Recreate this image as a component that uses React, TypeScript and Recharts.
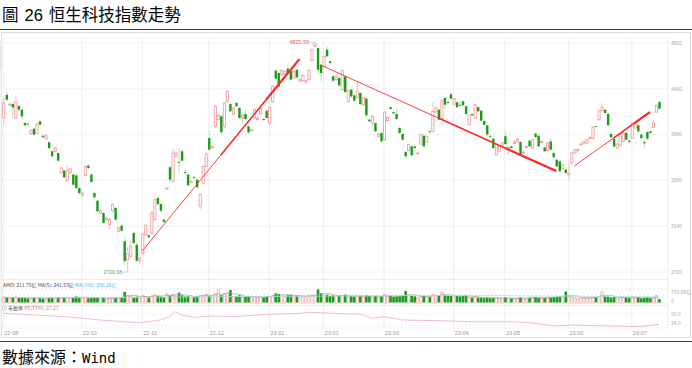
import React from 'react';
import {
  ComposedChart,
  Bar,
  Line,
  XAxis,
  YAxis,
  CartesianGrid,
  ReferenceLine,
  ReferenceDot,
} from 'recharts';

// daily candles, Aug 2022 - Jul 2023
const open = [
  4132, 4346, 4250, 4260, 4132, 4242, 4208, 4086, 4080, 3988,
  4034, 3995, 4102, 3970, 3940, 3910, 3827, 3827, 3811, 3628,
  3650, 3557, 3634, 3614, 3606, 3490, 3426, 3606, 3695, 3614,
  3444, 3374, 3261, 3261, 3200, 3154, 3282, 3307, 3094, 3145,
  3002, 2833, 2864, 3078, 2970, 2824, 2894, 3062, 3058, 3078,
  3200, 3398, 3343, 3200, 3481, 3680, 3552, 3781, 3730, 3827,
  3637, 3614, 3543, 3588, 3567, 3323, 3536, 3689, 3948, 3857,
  4056, 4117, 4148, 4056, 4285, 4260, 4169, 4270, 4224, 4132,
  4169, 4056, 4020, 4132, 4117, 4169, 4123, 4199, 4086, 4280,
  4566, 4545, 4529, 4536, 4584, 4566, 4499, 4575, 4469, 4474,
  4462, 4484, 4658, 4790, 4774, 4621, 4606, 4759, 4652, 4514,
  4484, 4499, 4392, 4514, 4285, 4392, 4340, 4322, 4362, 4254,
  4310, 4117, 4086, 4086, 3965, 3995, 3933, 4108, 4231, 4187,
  4169, 4041, 3986, 3820, 3833, 3872, 3872, 3808, 3894, 3970,
  3912, 4010, 4010, 4187, 4208, 4125, 4316, 4280, 4350, 4260,
  4276, 4254, 4285, 4240, 4071, 4169, 4132, 4231, 4199, 4105,
  4065, 3968, 3942, 3796, 3827, 3882, 3965, 3848, 3872, 3900,
  3912, 3912, 3811, 3863, 3924, 3857, 3989, 3970, 3909, 3863,
  3833, 3918, 3811, 3750, 3735, 3668, 3659, 3613, 3720, 3811,
  3833, 3890, 3903, 3903, 3942, 3942, 4058, 4117, 4199, 4208,
  4169, 3986, 3942, 3857, 3882, 3919, 3995, 3924, 3948, 4041,
  4065, 3980, 3912, 4004, 4010, 4047, 4187, 4280,
];
const close = [
  4270, 4300, 4258, 4230, 4280, 4208, 4148, 4065, 4074, 4016,
  3980, 4077, 4071, 3955, 3970, 3857, 3781, 3857, 3741, 3674,
  3588, 3653, 3665, 3521, 3490, 3444, 3444, 3689, 3674, 3546,
  3405, 3277, 3282, 3170, 3215, 3200, 3338, 3200, 3124, 3099,
  2818, 2886, 2955, 2986, 2824, 2848, 3069, 3149, 3039, 3261,
  3383, 3343, 3282, 3179, 3490, 3567, 3811, 3811, 3726, 3741,
  3628, 3516, 3552, 3581, 3497, 3432, 3689, 3802, 3842, 3872,
  4240, 4157, 4001, 4270, 4377, 4194, 4224, 4240, 4132, 4157,
  4123, 4001, 4025, 4208, 4132, 4218, 4114, 4132, 4231, 4423,
  4493, 4423, 4566, 4560, 4545, 4484, 4560, 4505, 4484, 4523,
  4474, 4569, 4759, 4808, 4575, 4545, 4698, 4698, 4636, 4474,
  4514, 4432, 4566, 4371, 4383, 4331, 4291, 4377, 4260, 4316,
  4157, 4102, 4148, 4010, 3986, 3919, 4187, 4139, 4215, 4175,
  4123, 3995, 3933, 3781, 3888, 3790, 3857, 3811, 3980, 3872,
  3965, 4001, 4194, 4224, 4117, 4290, 4254, 4270, 4310, 4307,
  4231, 4245, 4249, 4169, 4157, 4157, 4254, 4194, 4108, 4070,
  3980, 3962, 3857, 3888, 3872, 3903, 3894, 3863, 3857, 3912,
  3942, 3796, 3820, 3872, 3872, 3933, 3958, 3872, 3918, 3827,
  3903, 3842, 3772, 3689, 3644, 3704, 3628, 3628, 3811, 3842,
  3842, 3894, 3912, 3933, 3955, 4047, 4054, 4199, 4231, 4178,
  4065, 3955, 3872, 3894, 3980, 3995, 3933, 3912, 4086, 4077,
  4010, 3948, 3900, 3942, 3995, 4086, 4249, 4218,
];
const high = [
  4316, 4370, 4275, 4275, 4330, 4250, 4215, 4095, 4090, 4040,
  4045, 4090, 4110, 3978, 3978, 3920, 3835, 3870, 3815, 3685,
  3660, 3700, 3680, 3625, 3615, 3500, 3450, 3700, 3710, 3620,
  3455, 3380, 3300, 3270, 3230, 3215, 3350, 3320, 3135, 3155,
  3040, 2950, 3010, 3090, 2990, 2860, 3080, 3160, 3065, 3280,
  3430, 3410, 3350, 3210, 3495, 3690, 3850, 3830, 3850, 3840,
  3660, 3625, 3560, 3600, 3575, 3440, 3700, 3820, 4020, 3890,
  4250, 4170, 4160, 4280, 4390, 4275, 4235, 4280, 4235, 4170,
  4200, 4065, 4035, 4220, 4150, 4230, 4130, 4210, 4240, 4430,
  4580, 4555, 4580, 4575, 4620, 4575, 4570, 4585, 4495, 4530,
  4480, 4575, 4770, 4825.59, 4790, 4630, 4710, 4790, 4660, 4525,
  4525, 4510, 4580, 4525, 4395, 4400, 4350, 4460, 4370, 4325,
  4320, 4125, 4160, 4095, 3995, 4005, 4195, 4150, 4240, 4200,
  4220, 4050, 3995, 3830, 3900, 3880, 3880, 3818, 3990, 3980,
  3975, 4020, 4280, 4240, 4220, 4300, 4325, 4290, 4360, 4315,
  4285, 4290, 4295, 4250, 4165, 4175, 4265, 4240, 4205, 4112,
  4075, 3975, 3950, 3900, 3880, 3915, 4010, 3875, 3880, 3930,
  3950, 3920, 3828, 3880, 3935, 3945, 4000, 3978, 3928, 3870,
  3912, 3950, 3820, 3760, 3745, 3712, 3665, 3700, 3820, 3850,
  3860, 3910, 3925, 3942, 3965, 4055, 4062, 4210, 4270, 4215,
  4178, 4010, 3950, 3900, 3988, 4005, 4005, 3930, 4095, 4085,
  4075, 3988, 3920, 4012, 4020, 4120, 4258, 4290,
];
const low = [
  4077, 4280, 4240, 4132, 4120, 4190, 4120, 4055, 4060, 3975,
  3970, 3985, 4065, 3950, 3935, 3850, 3770, 3820, 3735, 3620,
  3580, 3550, 3620, 3510, 3470, 3430, 3400, 3600, 3660, 3540,
  3395, 3265, 3250, 3160, 3190, 3110, 3270, 3190, 3080, 3090,
  2785, 2720.38, 2850, 2975, 2810, 2790, 2880, 3050, 3030, 3060,
  3190, 3330, 3270, 3170, 3475, 3555, 3540, 3770, 3620, 3730,
  3610, 3500, 3535, 3570, 3480, 3290, 3520, 3680, 3835, 3850,
  4040, 4100, 3990, 4040, 4270, 4185, 4160, 4230, 4125, 4080,
  4115, 3985, 4010, 4120, 4110, 4160, 4105, 4125, 4060, 4270,
  4485, 4410, 4520, 4525, 4535, 4470, 4490, 4490, 4460, 4465,
  4440, 4475, 4650, 4780, 4530, 4470, 4595, 4690, 4625, 4460,
  4475, 4420, 4380, 4360, 4270, 4320, 4280, 4310, 4250, 4245,
  4150, 4095, 4060, 4000, 3955, 3905, 3925, 4100, 4205, 4165,
  4115, 3985, 3925, 3760, 3825, 3780, 3845, 3800, 3885, 3865,
  3905, 3995, 4000, 4175, 4105, 4115, 4210, 4260, 4300, 4250,
  4222, 4235, 4240, 4160, 4060, 4150, 4125, 4185, 4100, 4060,
  3970, 3950, 3845, 3785, 3820, 3870, 3885, 3800, 3850, 3890,
  3905, 3790, 3805, 3855, 3865, 3850, 3950, 3865, 3900, 3820,
  3825, 3835, 3765, 3680, 3635, 3660, 3620, 3567, 3710, 3805,
  3825, 3880, 3895, 3895, 3935, 3935, 4048, 4105, 4190, 4170,
  4055, 3948, 3862, 3850, 3875, 3910, 3925, 3900, 3940, 4030,
  4000, 3940, 3860, 3935, 3988, 4040, 4180, 4210,
];

// turnover, 亿
const amount = [
  320, 300, 260, 290, 340, 280, 300, 260, 250, 270,
  290, 310, 260, 240, 250, 280, 300, 250, 310, 280,
  300, 330, 260, 320, 350, 300, 280, 330, 260, 280,
  300, 320, 240, 290, 220, 260, 300, 280, 250, 320,
  600, 420, 380, 300, 350, 280, 420, 380, 300, 400,
  450, 380, 350, 320, 520, 400, 480, 380, 560, 420,
  350, 380, 300, 320, 360, 420, 450, 480, 380, 320,
  520, 780, 420, 480, 520, 700, 380, 360, 420, 320,
  350, 380, 300, 360, 320, 340, 300, 350, 380, 420,
  520, 480, 400, 380, 420, 450, 380, 400, 350, 360,
  380, 400, 450, 420, 750, 520, 420, 450, 380, 420,
  400, 380, 420, 450, 380, 360, 350, 380, 400, 360,
  420, 380, 350, 380, 340, 360, 480, 400, 380, 350,
  360, 380, 400, 650, 420, 380, 360, 300, 400, 380,
  360, 320, 480, 420, 400, 600, 420, 380, 400, 360,
  380, 360, 400, 420, 320, 300, 340, 300, 280, 260,
  300, 260, 280, 300, 260, 250, 300, 240, 260, 250,
  260, 300, 240, 250, 280, 300, 320, 280, 260, 270,
  280, 300, 320, 340, 360, 300, 620, 380, 340, 300,
  280, 300, 260, 280, 300, 340, 300, 380, 620, 360,
  340, 300, 320, 280, 300, 320, 280, 260, 300, 280,
  300, 260, 280, 300, 260, 280, 420, 211.75,
];

// PE(TTM) read at a few days
const peIdx = [0, 10, 21, 32, 39, 45, 52, 55, 57, 59, 63, 69, 76, 87, 98, 102, 109, 115, 118, 122, 126, 132, 144, 155, 167, 174, 183, 188, 200, 211, 217];
const peVal = [61.2, 55.9, 50.7, 40.5, 36, 32.2, 40.5, 50.7, 66.1, 55.9, 48.8, 52.8, 50.7, 58, 61.2, 64.2, 61.2, 59, 59, 45.8, 50.7, 40.5, 38.4, 35.3, 35.3, 32.2, 22, 25.1, 22, 19.9, 27.27];

const monthTicks = [0, 26, 46, 68, 88, 106, 126, 149, 166, 187, 208];
const monthLabels = ['22-08', '22-10', '22-11', '22-12', '23-01', '23-02', '23-03', '23-04', '23-05', '23-06', '23-07'];
const priceTicks = [2720, 3140, 3560, 3980, 4400, 4820];

// hand drawn trend lines: [index, price] start and end
const trends = [
  { x1: 46, y1: 2913, x2: 98, y2: 4673 },
  { x1: 105, y1: 4618, x2: 183, y2: 3646 },
  { x1: 189, y1: 3692, x2: 214, y2: 4187 },
];

const rolling = (arr: number[], n: number) =>
  arr.map((_, i) => {
    const s = arr.slice(Math.max(0, i - n + 1), i + 1);
    return s.reduce((a, b) => a + b, 0) / s.length;
  });

const ma5 = rolling(amount, 5);
const ma100 = rolling(amount, 100);

const data = open.map((o, i) => ({
  i,
  o,
  c: close[i],
  h: high[i],
  l: low[i],
  hl: [low[i], high[i]],
  amt: amount[i],
  ma5: ma5[i],
  ma100: ma100[i],
  pe: peIdx.includes(i) ? peVal[peIdx.indexOf(i)] : null,
  up: close[i] >= open[i],
}));

const hiIdx = high.indexOf(Math.max(...high));
const loIdx = low.indexOf(Math.min(...low));

const FONT = '"Liberation Sans", Arial, sans-serif';
const CJK = '"Noto Sans CJK TC", "Noto Sans CJK SC", sans-serif';

const Candle = (p: any) => {
  const { x, y, width, height, payload } = p;
  if (x == null || !payload) return null;
  const top = Math.min(y, y + height);
  const span = Math.abs(height);
  const k = payload.h > payload.l ? span / (payload.h - payload.l) : 0;
  const cx = x + width / 2;
  const yO = top + (payload.h - payload.o) * k;
  const yC = top + (payload.h - payload.c) * k;
  const bTop = Math.min(yO, yC);
  const bh = Math.max(Math.abs(yO - yC), 0.8);
  if (payload.up) {
    return (
      <g>
        <line x1={cx} x2={cx} y1={top} y2={top + span} stroke="#f5b2b2" strokeWidth={0.8} />
        <rect x={cx - 1.1} y={bTop} width={2.2} height={bh} fill="#fff" stroke="#f19595" strokeWidth={0.8} />
      </g>
    );
  }
  return (
    <g>
      <line x1={cx} x2={cx} y1={top} y2={top + span} stroke="#a6dba6" strokeWidth={0.8} />
      <rect x={cx - 1.2} y={bTop} width={2.4} height={bh} fill="#189c18" />
    </g>
  );
};

const AmtBar = (p: any) => {
  const { x, y, width, height, payload } = p;
  if (x == null || !payload) return null;
  const top = Math.min(y, y + height);
  const h = Math.abs(height);
  const cx = x + width / 2;
  if (payload.up) {
    return <rect x={cx - 1.1} y={top + 0.4} width={2.2} height={Math.max(h - 0.4, 0)} fill="#fff" stroke="#f3a0a0" strokeWidth={0.8} />;
  }
  return <rect x={cx - 1.3} y={top} width={2.6} height={h} fill="#1a9c1a" />;
};

const MonthTick = (p: any) => {
  const { x, y, payload } = p;
  const idx = monthTicks.indexOf(payload.value);
  return (
    <text x={x + 1} y={y + 6.5} fontSize={5.5} fill="#9a9a9a" textAnchor="start" fontFamily={FONT}>
      {monthLabels[idx]}
    </text>
  );
};

const sideLabel = (text: string, dy: number) => (props: any) => {
  const vb = props.viewBox || {};
  return (
    <text x={(vb.x || 0) + (vb.width || 0) + 3} y={(vb.y || 0) + dy} fontSize={5} fill="#aaa" fontFamily={CJK}>
      {text}
    </text>
  );
};

const HighMark = (p: any) => {
  const { cx, cy } = p;
  return (
    <g>
      <circle cx={cx} cy={cy + 1.5} r={1.6} fill="#fff" stroke="#f19393" strokeWidth={0.7} />
      <line x1={cx - 5} x2={cx - 1.6} y1={cy} y2={cy} stroke="#8fd3e8" strokeWidth={0.7} />
      <text x={cx - 5.5} y={cy + 1.8} fontSize={5.5} fill="#e06a6a" textAnchor="end" fontFamily={FONT}>
        {high[hiIdx].toFixed(2)}
      </text>
    </g>
  );
};

const LowMark = (p: any) => {
  const { cx, cy } = p;
  return (
    <g>
      <line x1={cx - 5} x2={cx + 1} y1={cy} y2={cy} stroke="#8fd3e8" strokeWidth={0.7} />
      <text x={cx - 5.5} y={cy + 1.8} fontSize={5} fill="#4caa4c" textAnchor="end" fontFamily={FONT}>
        {low[loIdx].toFixed(2)}
      </text>
    </g>
  );
};

// split a trend line into pieces that get thicker toward the end
const trendPieces = trends.flatMap((t, n) => {
  const at = (f: number) => {
    const xi = Math.round(t.x1 + (t.x2 - t.x1) * f);
    const yv = t.y1 + ((t.y2 - t.y1) * (xi - t.x1)) / (t.x2 - t.x1);
    return { x: xi, y: yv };
  };
  return [
    { key: `${n}a`, seg: [at(0), at(1)], w: 0.9 },
    { key: `${n}b`, seg: [at(0.5), at(1)], w: 1.5 },
    { key: `${n}c`, seg: [at(0.78), at(1)], w: 2.1 },
  ];
});

const xPad = { left: 0.8, right: 7.5 };

export default function App() {
  return (
    <div style={{ position: 'absolute', left: 0, top: 0, width: 692, height: 368, background: '#fff', overflow: 'hidden' }}>
      <div style={{ position: 'absolute', left: 2, top: 0, height: 28, lineHeight: '28px', fontSize: 16.5, fontFamily: CJK, color: '#000', whiteSpace: 'nowrap' }}>
        圖<span style={{ fontFamily: '"Liberation Sans Narrow", "Liberation Sans", Arial, sans-serif', fontSize: 16.5, margin: '0 6px 0 6px' }}>26</span>恒生科技指數走勢
      </div>
      <div style={{ position: 'absolute', left: 0, top: 28.5, width: 692, height: 1.5, background: '#a01414' }} />
      <div style={{ position: 'absolute', left: 1, top: 32, width: 688, height: 304, border: '1px solid #dcdcdc' }} />
      <div style={{ position: 'absolute', left: 0, top: 46, width: 2, height: 24, background: '#dedede' }} />

      <div style={{ position: 'absolute', left: 0, top: 0 }}>
        <ComposedChart width={692} height={338} data={data} margin={{ top: 38, right: 0, bottom: 0, left: 1 }}>
          <CartesianGrid xAxisId="x" yAxisId="main" vertical={false} stroke="#e8e8e8" strokeDasharray="2 2" />
          <CartesianGrid xAxisId="x" yAxisId="main" horizontal={false} stroke="#eeeeee" />
          <XAxis
            xAxisId="x"
            dataKey="i"
            type="category"
            ticks={monthTicks}
            interval={0}
            padding={xPad}
            height={10}
            tickSize={0}
            tickMargin={0}
            axisLine={false}
            tickLine={false}
            tick={<MonthTick />}
          />
          <XAxis xAxisId="x2" dataKey="i" type="category" padding={xPad} hide />
          <YAxis
            yAxisId="main"
            orientation="right"
            domain={[2206.5, 4866]}
            allowDataOverflow
            ticks={priceTicks}
            interval={0}
            width={24}
            tickSize={0}
            tickMargin={3}
            axisLine={false}
            tickLine={false}
            tick={{ fontSize: 5, fill: '#aaa', fontFamily: FONT }}
          />
          <YAxis yAxisId="amt" domain={[-1348, 14291]} allowDataOverflow hide />
          <YAxis yAxisId="pe" domain={[15.9, 909.1]} allowDataOverflow hide />

          <ReferenceLine xAxisId="x" yAxisId="amt" y={755} stroke="#e6e6e6" strokeDasharray="2 2" label={sideLabel('755.00亿', 4.8)} />
          <ReferenceLine xAxisId="x" yAxisId="amt" y={0} stroke="#eeeeee" label={sideLabel('0', 0.3)} />
          <ReferenceLine xAxisId="x" yAxisId="pe" y={59} stroke="#eeeeee" strokeDasharray="2 2" label={sideLabel('59.0', 2)} />
          <ReferenceLine xAxisId="x" yAxisId="pe" y={24} stroke="#eeeeee" strokeDasharray="2 2" label={sideLabel('24.0', -0.3)} />

          <Bar xAxisId="x" yAxisId="main" dataKey="hl" barSize={2} shape={<Candle />} isAnimationActive={false} />
          <Bar xAxisId="x2" yAxisId="amt" dataKey="amt" barSize={2} shape={<AmtBar />} isAnimationActive={false} />
          <Line xAxisId="x" yAxisId="amt" dataKey="ma5" stroke="#9c9c9c" strokeWidth={0.7} dot={false} isAnimationActive={false} />
          <Line xAxisId="x" yAxisId="amt" dataKey="ma100" stroke="#a5e4ee" strokeWidth={0.8} dot={false} isAnimationActive={false} />
          <Line xAxisId="x" yAxisId="pe" dataKey="pe" stroke="#f2a9b8" strokeWidth={0.8} dot={false} connectNulls isAnimationActive={false} />

          {trendPieces.map((p) => (
            <ReferenceLine
              key={p.key}
              xAxisId="x"
              yAxisId="main"
              segment={p.seg}
              stroke="#ff2a2a"
              strokeWidth={p.w}
            />
          ))}
          <ReferenceDot xAxisId="x" yAxisId="main" x={hiIdx} y={high[hiIdx]} shape={<HighMark />} />
          <ReferenceDot xAxisId="x" yAxisId="main" x={loIdx} y={low[loIdx]} shape={<LowMark />} />
        </ComposedChart>
      </div>

      <svg style={{ position: 'absolute', left: 0, top: 0 }} width={692} height={340}>
        <line x1={1} x2={668} y1={279.5} y2={279.5} stroke="#e6e6e6" strokeWidth={0.8} />
        <line x1={1} x2={668} y1={305.5} y2={305.5} stroke="#e6e6e6" strokeWidth={0.8} />
        <text x={3} y={286.8} fontSize={5} fontFamily={CJK} fill="#444">
          AMO: 211.75亿 MA(5): 241.53亿 <tspan fill="#3cc3dd">MA(100): 286.26亿</tspan>
        </text>
        <rect x={2.5} y={306} width={4} height={4} fill="#fff" stroke="#bbb" strokeWidth={0.5} />
        <text x={3.5} y={309.5} fontSize={3.5} fontFamily={FONT} fill="#888">?</text>
        <text x={8} y={309.8} fontSize={5} fontFamily={CJK} fill="#444">
          市盈率 <tspan fill="#ec6f8a">PE(TTM): 27.27</tspan>
        </text>
      </svg>

      <div style={{ position: 'absolute', left: 0, top: 340.5, width: 692, height: 1.5, background: '#a01414' }} />
      <div style={{ position: 'absolute', left: 2, top: 343, height: 26, lineHeight: '26px', fontSize: 16, fontFamily: CJK, color: '#000', whiteSpace: 'nowrap' }}>
        數據來源：<span style={{ fontFamily: '"DejaVu Sans Mono", monospace', fontSize: 14 }}>Wind</span>
      </div>
    </div>
  );
}
